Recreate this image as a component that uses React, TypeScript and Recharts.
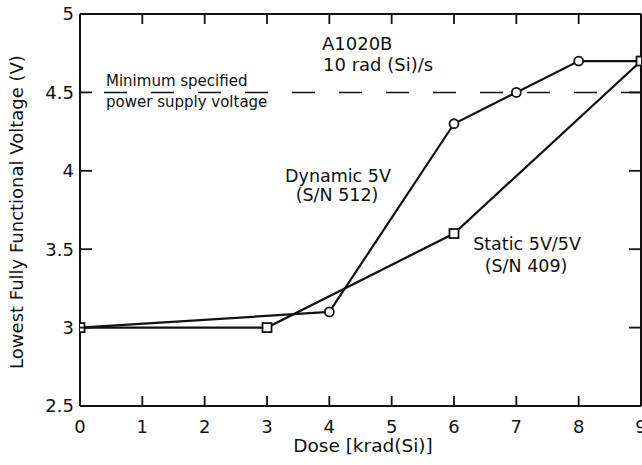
import React from "react";
import { LineChart, Line, XAxis, YAxis, ReferenceLine, Customized } from "recharts";

const doseTicks = [0, 1, 2, 3, 4, 5, 6, 7, 8, 9];
const voltTicks = [2.5, 3, 3.5, 4, 4.5, 5];

const dynamicDose = [0, 4, 6, 7, 8, 9];
const dynamicVolt = [3.0, 3.1, 4.3, 4.5, 4.7, 4.7];

const staticDose = [0, 3, 6, 9];
const staticVolt = [3.0, 3.0, 3.6, 4.7];

const minSupplyVoltage = 4.5;

const dynamicData = dynamicDose.map((d, i) => ({ dose: d, v: dynamicVolt[i] }));
const staticData = staticDose.map((d, i) => ({ dose: d, v: staticVolt[i] }));

const INK = "#111";
const FONT = "'DejaVu Sans', sans-serif";
const Y_MAX = 5;
const TOP_TICK_LEN = 0.064; // in volts, about 10px

const BottomTick = (props: any) => {
  const { x, y, payload } = props;
  const v = payload.value;
  return (
    <g>
      {v > 0 && v < 9 && <path d={`M${x},${y}V${y - 10}`} stroke={INK} strokeWidth={1.8} />}
      <text x={x} y={y + 27} textAnchor="middle" fontSize={18} fontFamily={FONT} fill={INK}>
        {v}
      </text>
    </g>
  );
};

const LeftTick = (props: any) => {
  const { x, y, payload } = props;
  const v = payload.value;
  return (
    <g>
      {v > 2.5 && v < 5 && <line x1={x} y1={y} x2={x + 12} y2={y} stroke={INK} strokeWidth={1.8} />}
      <text x={x - 6} y={y} dy="0.36em" textAnchor="end" fontSize={18} fontFamily={FONT} fill={INK}>
        {v}
      </text>
    </g>
  );
};

const RightTick = (props: any) => {
  const { x, y, payload } = props;
  const v = payload.value;
  if (v <= 2.5 || v >= 5) return <g />;
  return <line x1={x} y1={y} x2={x - 12} y2={y} stroke={INK} strokeWidth={1.8} />;
};

const squareDot = (p: any) => (
  <rect
    key={`sq-${p.index}`}
    x={p.cx - 4.5}
    y={p.cy - 4.5}
    width={9}
    height={9}
    fill="#fff"
    stroke={INK}
    strokeWidth={1.8}
  />
);

const Annotations = () => (
  <g fontFamily={FONT} fill={INK}>
    <text x={322} y={50} fontSize={18}>A1020B</text>
    <text x={323} y={71} fontSize={18}>10 rad (Si)/s</text>
    <text x={106} y={86} fontSize={15}>Minimum specified</text>
    <text x={106} y={107} fontSize={15}>power supply voltage</text>
    <text x={338} y={182} fontSize={17.5} textAnchor="middle">Dynamic 5V</text>
    <text x={337} y={201} fontSize={17.5} textAnchor="middle">(S/N 512)</text>
    <text x={527} y={250} fontSize={17.5} textAnchor="middle">Static 5V/5V</text>
    <text x={526} y={272} fontSize={17.5} textAnchor="middle">(S/N 409)</text>
    <text x={363} y={452} fontSize={18.5} textAnchor="middle">Dose [krad(Si)]</text>
    <text x={23} y={212} fontSize={18} textAnchor="middle" transform="rotate(-90 23 212)">
      Lowest Fully Functional Voltage (V)
    </text>
  </g>
);

export default function App() {
  return (
    <div style={{ position: "absolute", left: 0, top: 0, width: 642, height: 465, background: "#fff" }}>
      <LineChart width={642} height={465} margin={{ top: 4, right: 0, bottom: 0, left: 0 }}>
        <XAxis
          xAxisId="bottom"
          dataKey="dose"
          type="number"
          domain={[0, 9]}
          ticks={doseTicks}
          allowDataOverflow
          height={59}
          tickSize={0}
          tickMargin={0}
          tickLine={false}
          tick={<BottomTick />}
          axisLine={{ stroke: INK, strokeWidth: 2 }}
          interval={0}
        />
        <XAxis
          xAxisId="top"
          orientation="top"
          type="number"
          domain={[0, 9]}
          allowDataOverflow
          height={10}
          tick={false}
          tickLine={false}
          axisLine={{ stroke: INK, strokeWidth: 2 }}
        />
        <YAxis
          yAxisId="left"
          type="number"
          domain={[2.5, 5]}
          ticks={voltTicks}
          allowDataOverflow
          width={80}
          tickSize={0}
          tickMargin={0}
          tickLine={false}
          tick={<LeftTick />}
          axisLine={{ stroke: INK, strokeWidth: 2 }}
          interval={0}
        />
        <YAxis
          yAxisId="right"
          orientation="right"
          type="number"
          domain={[2.5, 5]}
          ticks={voltTicks}
          allowDataOverflow
          width={1}
          tickSize={0}
          tickMargin={0}
          tickLine={false}
          tick={<RightTick />}
          axisLine={{ stroke: INK, strokeWidth: 2 }}
          interval={0}
        />
        {doseTicks
          .filter((d) => d > 0 && d < 9)
          .map((d) => (
            <ReferenceLine
              key={`tt-${d}`}
              xAxisId="bottom"
              yAxisId="left"
              segment={[
                { x: d, y: Y_MAX },
                { x: d, y: Y_MAX - TOP_TICK_LEN },
              ]}
              stroke={INK}
              strokeWidth={1.8}
            />
          ))}
        <ReferenceLine
          xAxisId="bottom"
          yAxisId="left"
          y={minSupplyVoltage}
          stroke={INK}
          strokeWidth={1.5}
          strokeDasharray="23 24"
          strokeDashoffset={23}
        />
        <Line
          xAxisId="bottom"
          yAxisId="left"
          data={dynamicData}
          dataKey="v"
          stroke={INK}
          strokeWidth={2.2}
          dot={{ r: 4.5, fill: "#fff", stroke: INK, strokeWidth: 1.8 }}
          isAnimationActive={false}
        />
        <Line
          xAxisId="bottom"
          yAxisId="left"
          data={staticData}
          dataKey="v"
          stroke={INK}
          strokeWidth={2.2}
          dot={squareDot}
          isAnimationActive={false}
        />
        <Customized component={Annotations} />
      </LineChart>
    </div>
  );
}
